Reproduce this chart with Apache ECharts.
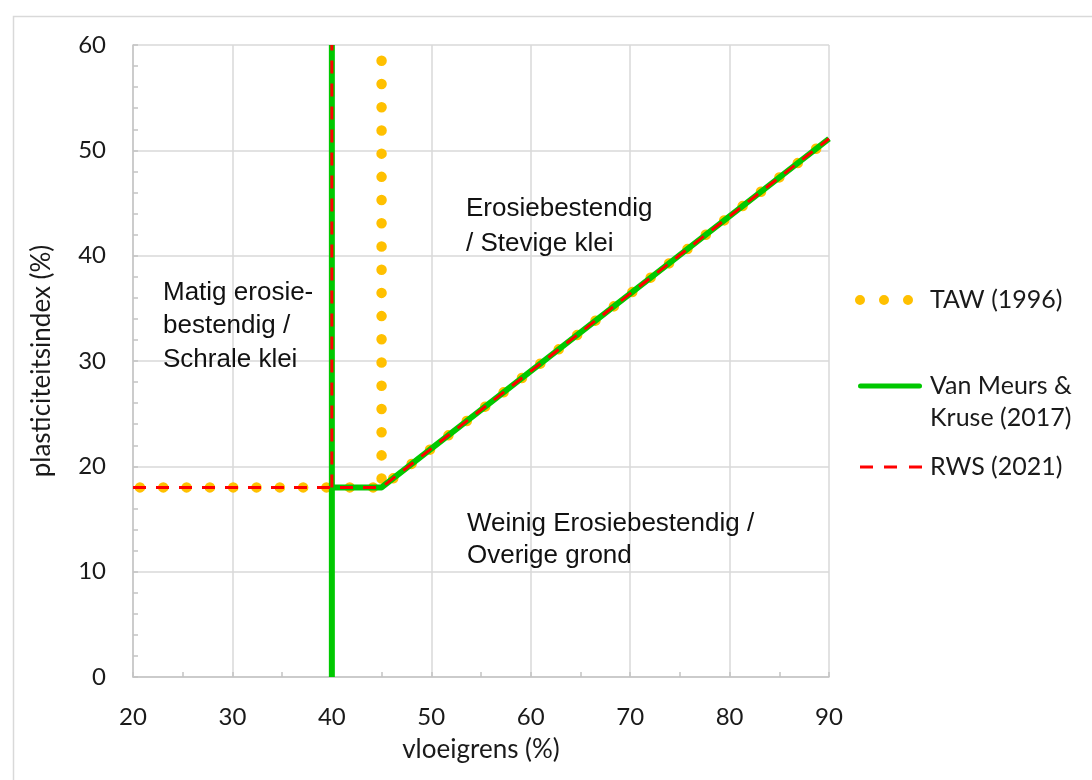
<!DOCTYPE html>
<html>
<head>
<meta charset="utf-8">
<script src="https://cdn.jsdelivr.net/npm/echarts@6/dist/echarts.min.js"></script>
<style>
html,body{margin:0;padding:0;background:#fff;}
#chart{width:1092px;height:780px;}
</style>
</head>
<body>
<div id="chart"></div>
<script>
// ---- data ----
const xTicks = [20, 30, 40, 50, 60, 70, 80, 90];
const yTicks = [0, 10, 20, 30, 40, 50, 60];
// TAW (1996)
const tawHorizontalDiag = [[20.7, 18], [45, 18], [90, 51.1]];
const tawVertical = [[45, 58.5], [45, 18]];
// Van Meurs & Kruse (2017)
const vmkVertical = [[40, 0], [40, 60]];
const vmkHorizontalDiag = [[40, 18], [45, 18], [90, 51.1]];
// RWS (2021)
const rwsHorizontalDiag = [[20, 18], [45, 18], [90, 51.1]];
const rwsVertical = [[40, 18], [40, 60]];

const seriesNames = ['TAW (1996)', 'Van Meurs & Kruse (2017)', 'RWS (2021)'];
const annotations = [
  { text: 'Matig erosie-\nbestendig /\nSchrale klei', x: 163, y: 276, lh: 33.5 },
  { text: 'Erosiebestendig\n/ Stevige klei', x: 466, y: 191, lh: 35 },
  { text: 'Weinig Erosiebestendig /\nOverige grond', x: 467, y: 508, lh: 32 }
];

const C_TAW = '#FFC000', C_VMK = '#00C800', C_RWS = '#FF0000';
const axisFont = 'Lato, "Open Sans", sans-serif';
const annFont = '"Liberation Sans", Arial, sans-serif';

function lineSeries(name, data, color, width, type, cap) {
  return {
    name: name, type: 'line', data: data, symbol: 'none', silent: true,
    animation: false, clip: false,
    lineStyle: { color: color, width: width, type: type, cap: cap || 'butt', join: 'round' },
    itemStyle: { color: color }
  };
}

const tawIcon = 'path://M0,5a5,5 0 1,0 10,0a5,5 0 1,0 -10,0Z M24,5a5,5 0 1,0 10,0a5,5 0 1,0 -10,0Z M48,5a5,5 0 1,0 10,0a5,5 0 1,0 -10,0Z';
const vmkIcon = 'path://M2.5,0H61.5A2.5,2.5 0 0,1 61.5,5H2.5A2.5,2.5 0 0,1 2.5,0Z';
const rwsIcon = 'path://M0,0H13V3H0Z M24,0H37V3H24Z M49,0H62V3H49Z';

const legendText = { color: '#1a1a1a', fontFamily: axisFont, fontSize: 25, lineHeight: 32 };

const option = {
  backgroundColor: '#fff',
  animation: false,
  grid: { left: 133, right: 263, top: 45, bottom: 103, containLabel: false },
  xAxis: {
    type: 'value', min: 20, max: 90, interval: 10,
    name: 'vloeigrens (%)', nameLocation: 'middle', nameGap: 60,
    nameTextStyle: { color: '#1a1a1a', fontFamily: axisFont, fontSize: 26 },
    axisLine: { show: true, onZero: false, lineStyle: { color: '#c4c4c4', width: 1.5 } },
    axisTick: { show: true, inside: true, length: 5, lineStyle: { color: '#c4c4c4', width: 1.5 } },
    minorTick: { show: true, splitNumber: 2, length: 5, lineStyle: { color: '#c4c4c4', width: 1.5 } },
    axisLabel: { color: '#1a1a1a', fontFamily: axisFont, fontSize: 24, margin: 28,
      formatter: v => xTicks.includes(v) ? String(v) : '' },
    splitLine: { show: true, lineStyle: { color: '#d9d9d9', width: 1.5 } }
  },
  yAxis: {
    type: 'value', min: 0, max: 60, interval: 10,
    name: 'plasticiteitsindex (%)', nameLocation: 'middle', nameGap: 78, nameRotate: 90,
    nameTextStyle: { color: '#1a1a1a', fontFamily: axisFont, fontSize: 26 },
    axisLine: { show: true, lineStyle: { color: '#c4c4c4', width: 1.5 } },
    axisTick: { show: true, inside: true, length: 5, lineStyle: { color: '#c4c4c4', width: 1.5 } },
    minorTick: { show: true, splitNumber: 5, length: 5, lineStyle: { color: '#c4c4c4', width: 1.5 } },
    axisLabel: { color: '#1a1a1a', fontFamily: axisFont, fontSize: 24, margin: 27,
      formatter: v => yTicks.includes(v) ? String(v) : '' },
    splitLine: { show: true, lineStyle: { color: '#d9d9d9', width: 1.5 } }
  },
  legend: [
    { data: [{ name: seriesNames[0], icon: tawIcon }], orient: 'vertical', left: 855, top: 284,
      padding: 0, itemWidth: 58, itemHeight: 10, symbolKeepAspect: true, selectedMode: false,
      textStyle: Object.assign({ padding: [0, 0, 0, 12] }, legendText) },
    { data: [{ name: seriesNames[1], icon: vmkIcon }], orient: 'vertical', left: 858, top: 338,
      padding: 0, itemWidth: 64, itemHeight: 5, symbolKeepAspect: true, selectedMode: false,
      formatter: () => ' \nVan Meurs &\nKruse (2017)',
      textStyle: Object.assign({ padding: [0, 0, 0, 3] }, legendText) },
    { data: [{ name: seriesNames[2], icon: rwsIcon }], orient: 'vertical', left: 860, top: 451,
      padding: 0, itemWidth: 62, itemHeight: 3, symbolKeepAspect: true, selectedMode: false,
      textStyle: Object.assign({ padding: [0, 0, 0, 3] }, legendText) }
  ],
  graphic: [
    { type: 'rect', left: 11, top: 14, silent: true, z: -10,
      shape: { x: 0, y: 0, width: 1100, height: 800 },
      style: { fill: 'none', stroke: '#d9d9d9', lineWidth: 1.5 } }
  ].concat(annotations.map(a => ({
    type: 'text', x: a.x, y: a.y, silent: true, z: 100,
    style: { text: a.text, fill: '#111', font: '26px ' + annFont, lineHeight: a.lh,
      textVerticalAlign: 'top', verticalAlign: 'top' }
  }))),
  series: [
    lineSeries(seriesNames[0], tawHorizontalDiag, C_TAW, 10.5, [0.01, 23.3], 'round'),
    lineSeries(seriesNames[0], tawVertical, C_TAW, 10.5, [0.01, 23.2], 'round'),
    lineSeries(seriesNames[1], vmkVertical, C_VMK, 6, 'solid'),
    lineSeries(seriesNames[1], vmkHorizontalDiag, C_VMK, 6, 'solid'),
    lineSeries(seriesNames[2], rwsHorizontalDiag, C_RWS, 3, [13, 10]),
    lineSeries(seriesNames[2], rwsVertical, C_RWS, 3, [13, 10])
  ]
};

const chart = echarts.init(document.getElementById('chart'), null, { renderer: 'canvas' });
chart.setOption(option);
</script>
</body>
</html>
